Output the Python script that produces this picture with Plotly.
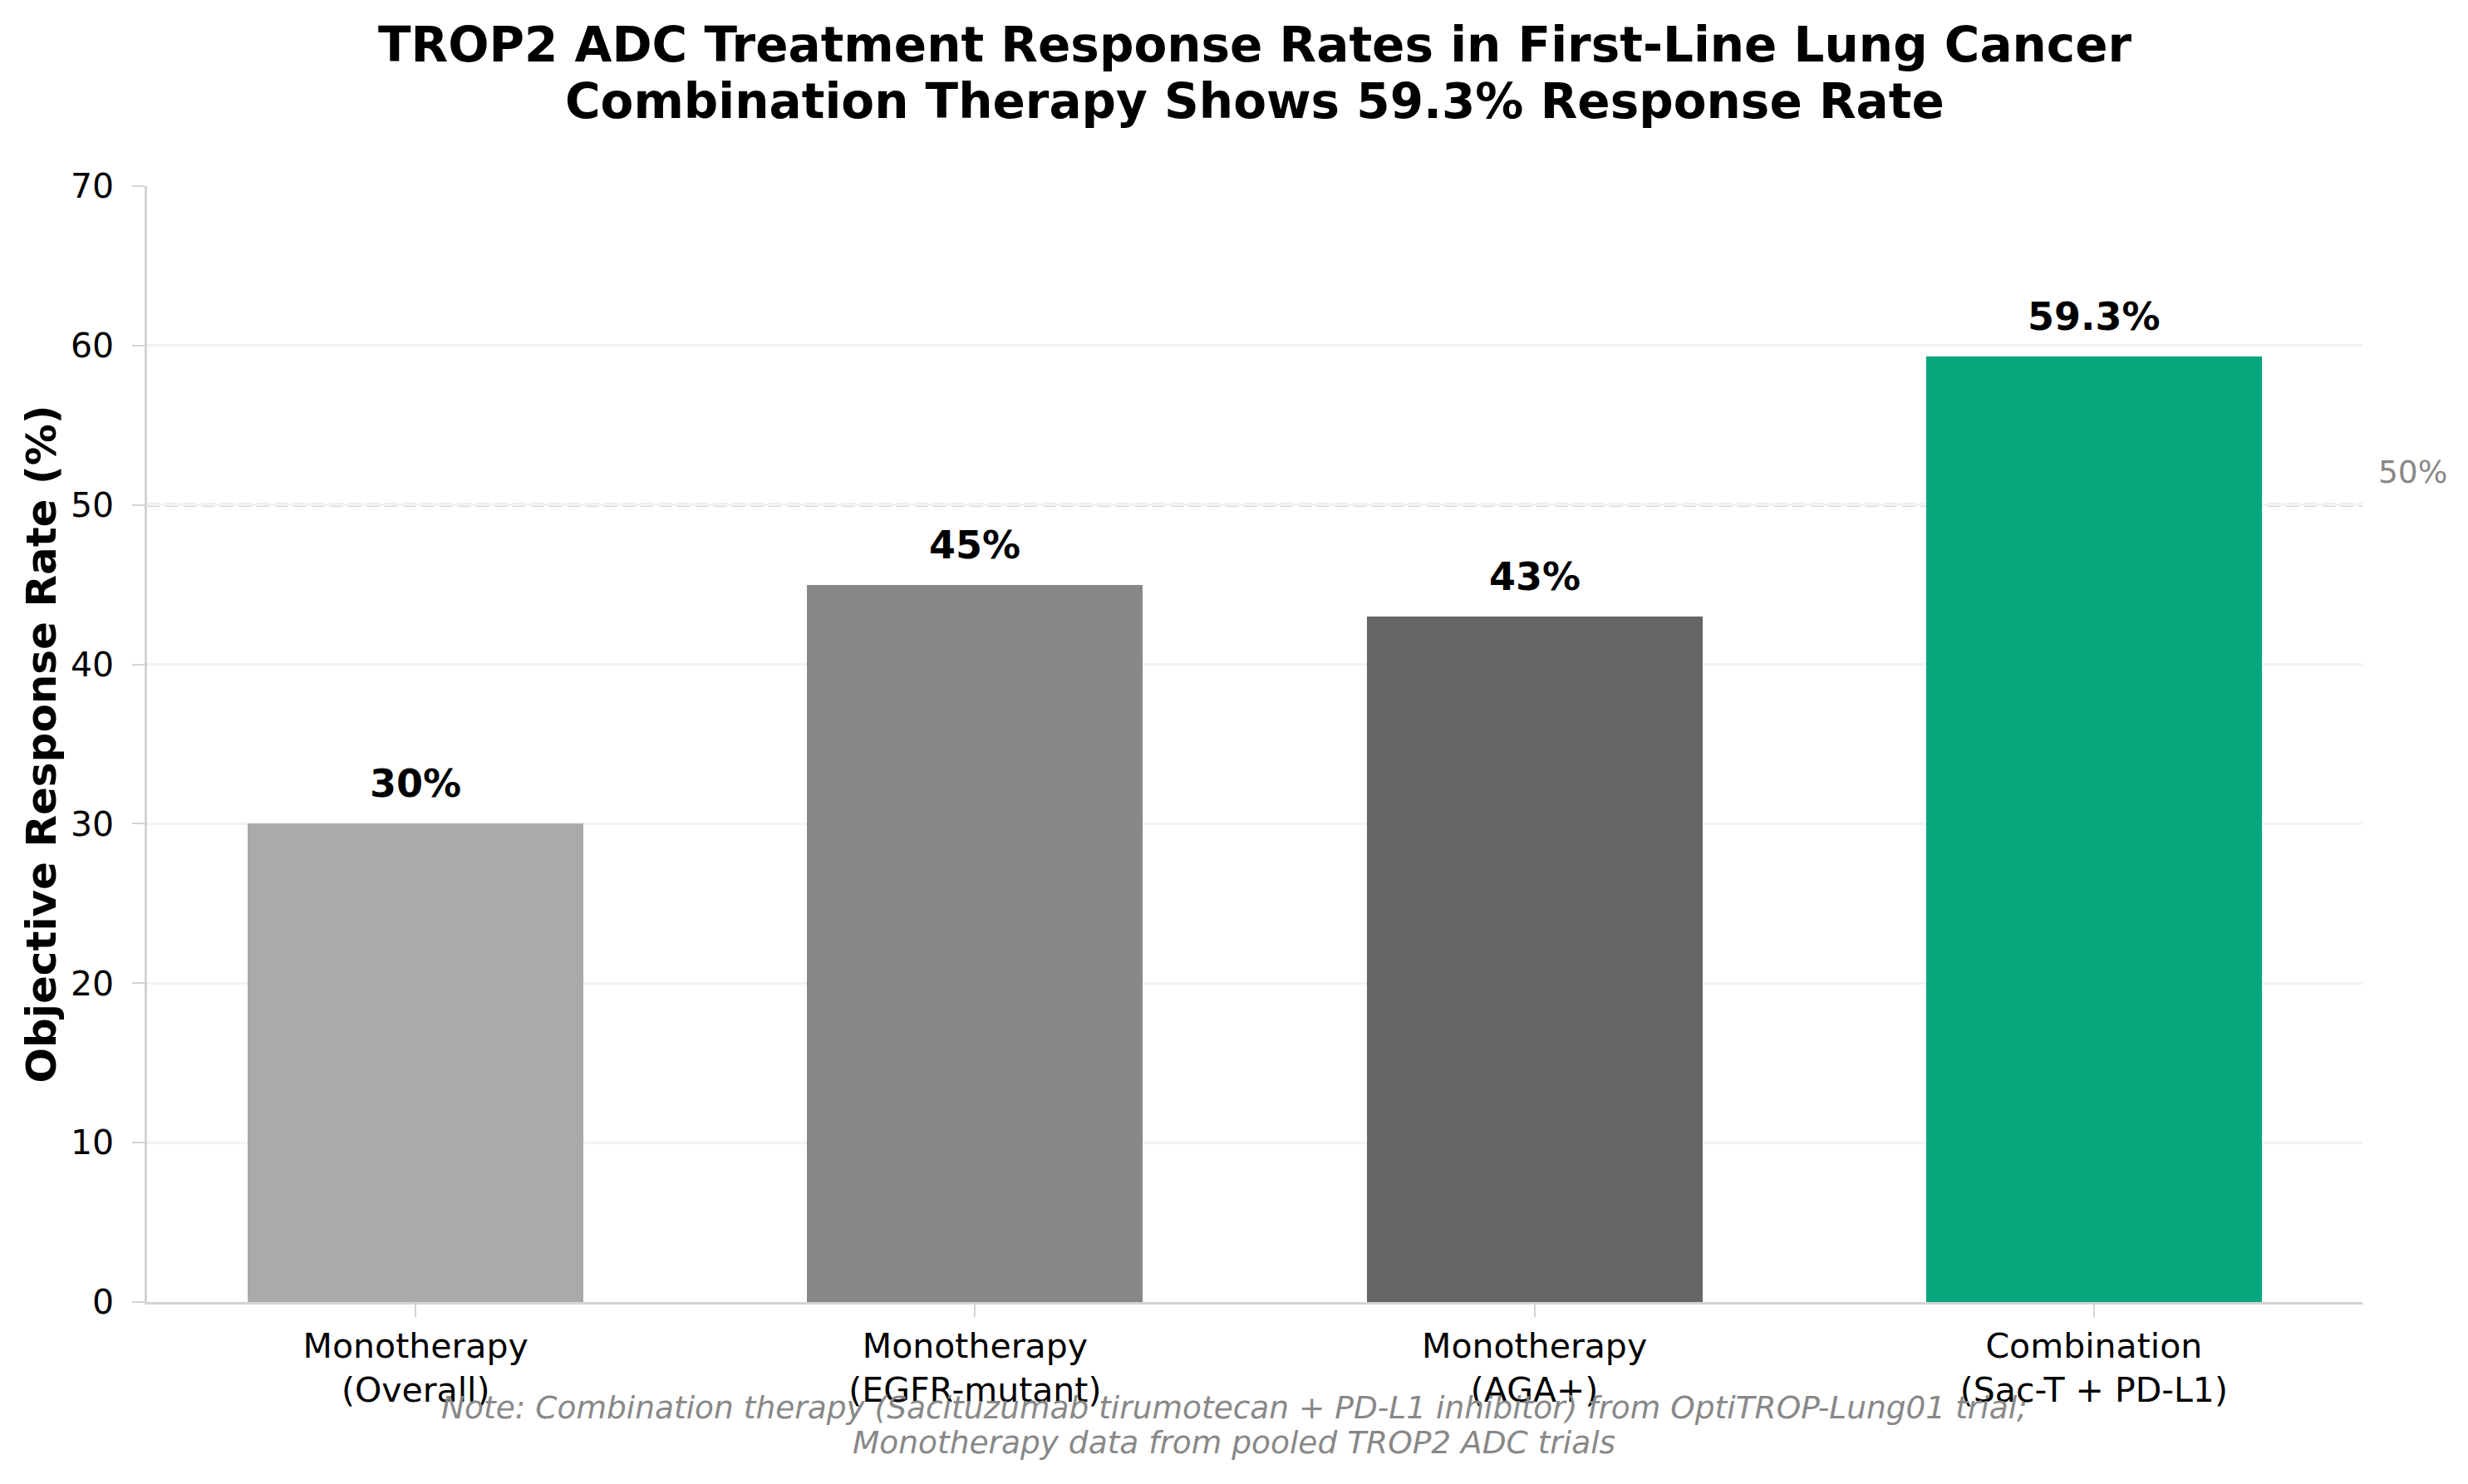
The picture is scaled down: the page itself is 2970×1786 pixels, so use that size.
import plotly.graph_objects as go

categories = ["Monotherapy<br>(Overall)", "Monotherapy<br>(EGFR-mutant)",
              "Monotherapy<br>(AGA+)", "Combination<br>(Sac-T + PD-L1)"]
values = [30, 45, 43, 59.3]
value_labels = ["30%", "45%", "43%", "59.3%"]
colors = ["#AAAAAA", "#888888", "#666666", "#06A77D"]
y_ticks = [0, 10, 20, 30, 40, 50, 60, 70]
reference_level = 50

title_lines = ["TROP2 ADC Treatment Response Rates in First-Line Lung Cancer",
               "Combination Therapy Shows 59.3% Response Rate"]
note_lines = ["Note: Combination therapy (Sacituzumab tirumotecan + PD-L1 inhibitor) from OptiTROP-Lung01 trial;",
              "Monotherapy data from pooled TROP2 ADC trials"]

FONT = "DejaVu Sans"
W, H = 2970, 1786
# page body adds an 8px offset; margins compensate for it
L, R, T, B = 169, 135, 216, 227
PLOT_LEFT, PLOT_BOTTOM = 177, 1567
plot_w = W - L - R

xpos = list(range(len(categories)))

fig = go.Figure()
fig.add_trace(go.Bar(
    x=xpos, y=values, width=0.6,
    marker=dict(color=colors, line=dict(width=0)),
    hoverinfo="skip", showlegend=False,
))

annotations = []
for xi, v, lab in zip(xpos, values, value_labels):
    annotations.append(dict(
        x=xi, y=v, xref="x", yref="y", text=lab, showarrow=False,
        xanchor="center", yanchor="middle", yshift=48,
        font=dict(family=FONT, size=46, color="black", weight="bold"),
    ))

annotations.append(dict(
    x=1, y=reference_level, xref="paper", yref="y", text=f"{reference_level}%",
    showarrow=False, xanchor="left", yanchor="middle", xshift=17, yshift=40,
    font=dict(family=FONT, size=37.5, color="#888888"),
))

for line, ys in zip(title_lines, [170.5, 102]):
    annotations.append(dict(
        x=0.5, y=1, xref="paper", yref="paper", text=line, showarrow=False,
        xanchor="center", yanchor="middle", yshift=ys,
        font=dict(family=FONT, size=58, color="black", weight="bold"),
    ))

note_x = (1485 - PLOT_LEFT) / plot_w
for line, yc in zip(note_lines, [1694, 1735.5]):
    annotations.append(dict(
        x=note_x, y=0, xref="paper", yref="paper", text=line, showarrow=False,
        xanchor="center", yanchor="middle", yshift=-(yc - PLOT_BOTTOM),
        font=dict(family=FONT, size=37.5, color="#888888", style="italic"),
    ))

annotations.append(dict(
    x=0, y=0.5, xref="paper", yref="paper", text="Objective Response Rate (%)",
    showarrow=False, textangle=-90, xanchor="center", yanchor="middle",
    xshift=49 - PLOT_LEFT,
    font=dict(family=FONT, size=50, color="black", weight="bold"),
))

fig.add_shape(
    type="line", xref="paper", yref="y", x0=0, x1=1,
    y0=reference_level, y1=reference_level, layer="between",
    line=dict(color="#D5D5D5", width=4.5, dash="15.3px,6.7px"),
)

fig.update_layout(
    width=W, height=H,
    margin=dict(l=L, r=R, t=T, b=B, pad=0),
    paper_bgcolor="white", plot_bgcolor="white",
    annotations=annotations,
    bargap=0,
    font=dict(family=FONT, color="black"),
)
fig.update_xaxes(
    range=[-0.48, 3.48], tickmode="array", tickvals=xpos, ticktext=categories,
    showgrid=False, zeroline=False,
    showline=True, linecolor="#D3D3D3", linewidth=2.5,
    ticks="outside", ticklen=15, tickwidth=2, tickcolor="#D3D3D3",
    tickfont=dict(family=FONT, size=41, color="black"),
    ticklabelstandoff=0,
)
fig.update_yaxes(
    range=[0, 70], tickmode="array", tickvals=y_ticks,
    showgrid=True, gridcolor="#F2F2F2", gridwidth=2.5, zeroline=False,
    showline=True, linecolor="#D3D3D3", linewidth=2.5,
    ticks="outside", ticklen=15, tickwidth=2, tickcolor="#D3D3D3",
    tickfont=dict(family=FONT, size=41, color="black"),
    ticklabelstandoff=14,
)

fig.write_html("out.html")
